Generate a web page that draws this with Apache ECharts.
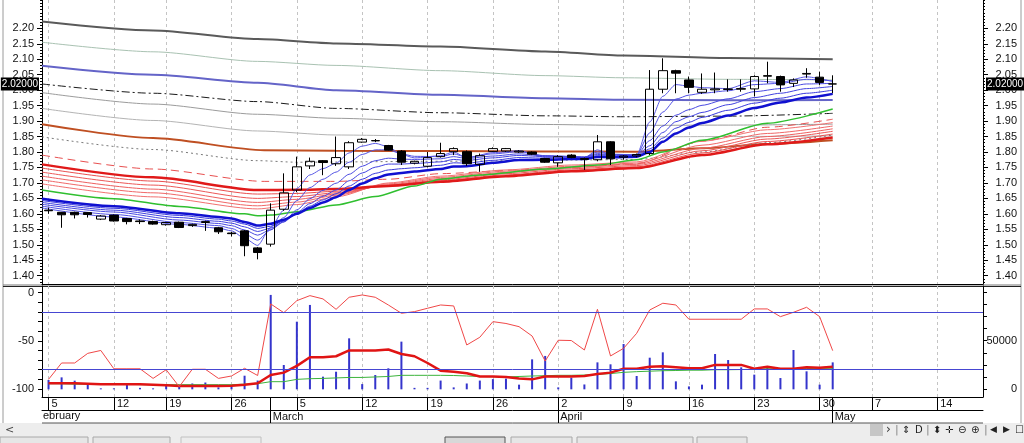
<!DOCTYPE html>
<html>
<head>
<meta charset="utf-8">
<script src="https://cdn.jsdelivr.net/npm/echarts@6/dist/echarts.min.js"></script>
<style>
html, body { margin: 0; padding: 0; background: #fff; }
#chart { width: 1024px; height: 443px; }
</style>
</head>
<body>
<div id="chart"></div>
<script>
// trading days shown on the x axis (last 11 are empty future slots)
var dates = [
    '2/5','2/6','2/7','2/8','2/9','2/12','2/13','2/14','2/15','2/19','2/20','2/21','2/22','2/23','2/26','2/27','2/28',
    '3/1','3/2','3/5','3/6','3/7','3/8','3/9','3/12','3/13','3/14','3/15','3/16','3/19','3/20','3/21','3/22','3/23','3/26','3/27','3/28','3/29','3/30',
    '4/2','4/3','4/4','4/5','4/6','4/9','4/10','4/11','4/12','4/13','4/16','4/17','4/18','4/19','4/20','4/23','4/24','4/25','4/26','4/27','4/30',
    '5/2','5/3','5/4','5/7','5/8','5/9','5/10','5/11','5/14','5/15','5/16','5/17'
];
var weekTicks = [0, 5, 9, 14, 19, 24, 29, 34, 39, 44, 49, 54, 59, 63, 68];
var monthTicks = [17, 39, 60];
var monthNames = ['March', 'April', 'May'];

var priceTicks = [1.40, 1.45, 1.50, 1.55, 1.60, 1.65, 1.70, 1.75, 1.80, 1.85, 1.90, 1.95, 2.00, 2.05, 2.10, 2.15, 2.20];
var oscTicks = [0, -50, -100];
var volTicks = [0, 50000];
var lastPrice = 2.02;

// candles
var opens  = [1.612,1.605,1.605,1.604,1.583,1.596,1.585,1.577,1.575,1.565,1.573,1.562,1.572,1.555,1.538,1.545,1.490,
              1.502,1.615,1.677,1.755,1.772,1.762,1.752,1.832,1.836,1.821,1.803,1.764,1.754,1.785,1.801,1.801,1.760,1.802,1.803,1.800,1.800,1.779,
              1.765,1.790,1.776,1.775,1.833,1.783,1.787,1.795,2.003,2.063,2.033,1.993,2.001,2.002,2.003,2.004,2.045,2.044,2.022,2.052,2.042,2.020];
var closes = [1.610,1.597,1.597,1.598,1.593,1.577,1.575,1.575,1.567,1.572,1.556,1.566,1.575,1.542,1.536,1.497,1.475,
              1.612,1.668,1.752,1.770,1.766,1.782,1.830,1.841,1.837,1.806,1.767,1.770,1.782,1.795,1.811,1.762,1.788,1.811,1.811,1.803,1.793,1.767,
              1.785,1.782,1.779,1.833,1.778,1.787,1.792,2.003,2.063,2.055,2.009,2.003,2.004,2.004,2.005,2.044,2.047,2.017,2.033,2.054,2.025,2.020];
var lows   = [1.600,1.555,1.585,1.588,1.580,1.575,1.566,1.567,1.565,1.562,1.554,1.558,1.545,1.535,1.527,1.463,1.453,
              1.494,1.610,1.670,1.745,1.725,1.755,1.745,1.830,1.832,1.805,1.758,1.760,1.750,1.782,1.790,1.755,1.736,1.800,1.800,1.797,1.790,1.765,
              1.752,1.780,1.742,1.770,1.758,1.775,1.783,1.790,1.990,1.990,1.990,1.988,1.990,1.995,1.995,1.980,2.022,1.995,2.010,2.040,2.017,1.990];
var highs  = [1.620,1.606,1.607,1.606,1.596,1.598,1.587,1.582,1.578,1.574,1.575,1.568,1.578,1.558,1.542,1.548,1.493,
              1.634,1.731,1.785,1.782,1.774,1.850,1.835,1.845,1.842,1.823,1.806,1.772,1.800,1.830,1.815,1.805,1.795,1.815,1.813,1.806,1.802,1.781,
              1.790,1.793,1.782,1.855,1.835,1.790,1.795,2.065,2.103,2.066,2.044,2.054,2.057,2.035,2.035,2.048,2.092,2.047,2.038,2.071,2.060,2.048];

// long averages and bands, [day index, price]
var maTop     = [[-0.5,2.222],[8,2.193],[16,2.165],[22,2.151],[30,2.141],[38,2.125],[44,2.112],[52,2.104],[60,2.100]];
var maPale    = [[-0.5,2.155],[8,2.124],[16,2.093],[22,2.080],[30,2.063],[38,2.047],[44,2.040],[52,2.035],[60,2.033]];
var maPurple  = [[-0.5,2.079],[8,2.050],[16,2.024],[22,2.000],[30,1.985],[38,1.974],[44,1.969],[52,1.967],[60,1.968]];
var maDashDot = [[-0.5,2.020],[8,1.990],[16,1.963],[22,1.941],[30,1.927],[38,1.917],[44,1.914],[52,1.916],[60,1.925]];
var maGrey1   = [[-0.5,1.992],[8,1.955],[16,1.922],[22,1.909],[30,1.898],[38,1.889],[44,1.886],[52,1.887],[60,1.890]];
var maGrey2   = [[-0.5,1.941],[8,1.902],[16,1.868],[22,1.855],[30,1.851],[38,1.849],[44,1.849],[52,1.850],[60,1.852]];
var maBrown   = [[-0.5,1.890],[8,1.845],[16.5,1.806],[22,1.804],[30,1.803],[38,1.802],[45,1.801],[50,1.812],[55,1.826],[60,1.838]];
var maDotted  = [[-0.5,1.849],[8,1.808],[16,1.772],[19,1.767],[30,1.770],[40,1.774],[45,1.776],[50,1.800],[55,1.830],[60,1.855]];
var maRedDash = [[-0.5,1.790],[8,1.745],[16.5,1.705],[22,1.705],[26,1.712],[30,1.730],[36,1.742],[40,1.750],[45,1.762],[50,1.835],[55,1.880],[60,1.906]];
var maGreen   = [[-0.5,1.677],[5,1.649],[10,1.624],[15,1.600],[16,1.594],[17,1.596],[19,1.607],[22,1.629],[25,1.656],[28,1.690],[30,1.712],
                 [33,1.726],[38,1.745],[42,1.758],[45,1.775],[47,1.800],[50,1.838],[55,1.893],[60,1.939]];

// long group (red)
var redIdx  = [-0.5, 8, 16, 19, 22, 26, 30, 35, 40, 45, 50, 55, 60];
var redL1   = [1.697,1.655,1.616,1.630,1.655,1.700,1.722,1.742,1.758,1.768,1.835,1.872,1.895];
var redL2   = [1.710,1.668,1.626,1.638,1.660,1.697,1.718,1.738,1.754,1.764,1.822,1.860,1.884];
var redL3   = [1.722,1.680,1.637,1.647,1.664,1.694,1.714,1.734,1.750,1.760,1.812,1.850,1.875];
var redL4   = [1.735,1.693,1.650,1.656,1.668,1.692,1.710,1.730,1.746,1.756,1.804,1.842,1.867];
var redL5   = [1.748,1.706,1.664,1.666,1.673,1.691,1.707,1.726,1.742,1.752,1.797,1.834,1.858];
var redSlow = [1.760,1.718,1.677,1.678,1.680,1.690,1.704,1.722,1.738,1.748,1.790,1.825,1.847];

// short group (blue)
var blueIdx  = [-0.5,5,10,13,14,15,16,17,18,19,20,21,22,23,24,25,26,27,28,30,31,32,34,36,38,40,41,42,43,45,46,47,48,49,50,52,54,56,58,60];
var blueS1   = [1.619,1.590,1.566,1.554,1.545,1.521,1.498,1.556,1.612,1.682,1.726,1.746,1.764,1.797,1.819,1.828,1.817,1.792,1.781,1.788,
                1.800,1.781,1.798,1.804,1.783,1.783,1.781,1.807,1.792,1.791,1.897,1.980,2.018,2.013,2.008,2.005,2.030,2.025,2.043,2.028];
var blueS2   = [1.625,1.598,1.572,1.562,1.553,1.535,1.515,1.548,1.588,1.643,1.685,1.712,1.735,1.767,1.792,1.807,1.807,1.794,1.786,1.785,
                1.794,1.783,1.794,1.801,1.788,1.785,1.783,1.800,1.793,1.791,1.862,1.929,1.971,1.984,1.990,1.998,2.018,2.022,2.035,2.030];
var blueS3   = [1.631,1.606,1.580,1.569,1.562,1.548,1.531,1.549,1.574,1.613,1.649,1.676,1.699,1.728,1.754,1.772,1.780,1.777,1.776,1.778,
                1.785,1.779,1.787,1.794,1.788,1.786,1.784,1.795,1.791,1.790,1.837,1.884,1.919,1.937,1.951,1.972,1.995,2.005,2.020,2.022];
var blueS4   = [1.637,1.612,1.588,1.576,1.570,1.558,1.543,1.554,1.574,1.604,1.633,1.657,1.677,1.707,1.732,1.751,1.761,1.761,1.763,1.768,
                1.776,1.773,1.781,1.789,1.785,1.784,1.783,1.792,1.789,1.789,1.820,1.863,1.898,1.914,1.928,1.953,1.976,1.990,2.005,2.012];
var blueS5   = [1.643,1.618,1.595,1.583,1.577,1.567,1.553,1.560,1.577,1.600,1.625,1.645,1.665,1.690,1.712,1.731,1.742,1.746,1.749,1.757,
                1.765,1.764,1.773,1.782,1.780,1.781,1.781,1.788,1.786,1.787,1.810,1.845,1.877,1.896,1.912,1.935,1.958,1.974,1.990,2.000];
var blueSlow = [1.649,1.625,1.602,1.590,1.585,1.574,1.562,1.568,1.581,1.600,1.619,1.637,1.654,1.677,1.698,1.715,1.727,1.732,1.737,1.745,
                1.753,1.754,1.765,1.774,1.775,1.777,1.777,1.784,1.783,1.785,1.800,1.833,1.860,1.879,1.894,1.918,1.942,1.960,1.976,1.988];

// lower panel
var pctR = [-90,-73,-73,-63,-60,-79,-79,-79,-89,-80,-97.6,-79.5,-79.5,-89,-86.5,-78.5,-86,-11.7,-20.8,-8.3,
            -3.1,-6.5,-17.3,-4.8,-2.4,-4.8,-12.8,-21.4,-19.7,-16.2,-12.8,-13.8,-54.3,-46.3,-30.1,-32,-35.3,-45,-71,-49.4,
            -49.7,-59.5,-17.3,-65.7,-57.8,-42.2,-18,-11,-12.8,-27.6,-27.6,-27.6,-27.6,-27.6,-16.9,-16.9,-24.9,-20.4,-15.2,-24.9,-60.2];
var pctRSlow = [-94,-94,-94,-94.5,-95,-95,-95,-95,-95.5,-96,-97,-97,-97,-97,-96.5,-95.5,-94,-85.5,-83,-76,
                -67,-67,-66,-60,-60,-60,-59,-63.7,-66,-73,-81,-82,-83.7,-87,-87,-87.5,-89,-90,-87,-87,
                -87,-86.5,-84.4,-83,-79,-79,-77,-76.5,-77.5,-78.5,-78.5,-75,-75,-75,-79,-77,-79,-79,-77.5,-78,-77];
var pctRSignal = [-94.5,-94.5,-95,-95,-95,-95,-95,-95.5,-95.5,-95.5,-95.5,-95.5,-95.5,-95.5,-95.5,-95,-94.5,-92.4,-92.4,-90,
                  -89.3,-89,-88.5,-88,-88,-87.5,-87,-85.8,-85.8,-85.8,-85.8,-86,-86.5,-87,-87.2,-87.5,-87,-86.5,-86.2,-85.8,
                  -85.8,-85.5,-84.8,-84,-82.7,-82,-81.5,-81,-80.8,-80.5,-80.5,-80,-80,-79.8,-79.5,-79,-79,-78.8,-78.8,-78.6,-78.5];
var pctRLevels = [-20, -80];
var volume = [9600,12300,8900,5500,1000,1000,5500,1500,1000,5000,4500,6000,7000,2000,3000,14000,9000,97000,25000,69500,
              86700,13000,18100,52400,5400,14700,21600,49000,1500,1500,9000,2000,6000,9000,10500,11000,4800,30800,34300,2000,
              12000,5000,27700,25700,46600,13700,32500,38000,8200,3000,4800,36300,30100,22600,15100,24000,11600,40400,18500,4800,27700];


var FONT = 'Liberation Sans';
var chart = echarts.init(document.getElementById('chart'));

function pair(idx, vals) {
    return idx.map(function (x, i) { return [x, vals[i]]; });
}
function ma(name, pts, color, width, type, z) {
    return {
        name: name, type: 'line', xAxisIndex: 1, yAxisIndex: 0,
        data: pts, symbol: 'none', smooth: 0.25, smoothMonotone: 'x',
        lineStyle: { color: color, width: width, type: type || 'solid' },
        z: z || 3, silent: true, animation: false
    };
}
function minorTicks(from, to, step) {
    var out = [];
    for (var v = from; v <= to + step / 2; v += step) out.push(+v.toFixed(4));
    return out;
}

var priceMin = 1.3732, priceMax = 2.2915;
var oscMin = -108.3, oscMax = 6.9;
var volMin = -7880, volMax = 106160;

var candleData = opens.map(function (o, i) { return [o, closes[i], lows[i], highs[i]]; });
var labelStyle = { fontFamily: FONT, fontSize: 11, color: '#111' };

function priceAxis(pos, major) {
    return {
        type: 'value', gridIndex: 0, position: pos, min: priceMin, max: priceMax,
        axisLine: { show: major, onZero: false, lineStyle: { color: '#000' } },
        axisTick: { show: true, customValues: major ? priceTicks : minorTicks(1.38, 2.29, 0.01),
                    length: major ? 5 : 2, lineStyle: { color: '#000' } },
        axisLabel: major ? Object.assign({ show: true, customValues: priceTicks, margin: pos === 'left' ? 8 : 34,
                    align: 'right', formatter: function (v) { return v.toFixed(2); } }, labelStyle) : { show: false },
        splitLine: { show: false }
    };
}
function gridAxis(gridIndex) {
    // carries only the dashed weekly grid lines
    return { type: 'value', gridIndex: gridIndex, min: -0.5, max: 71.5,
             axisLine: { show: false, onZero: false }, axisTick: { show: false, length: 0, customValues: weekTicks },
             axisLabel: { show: false }, splitLine: { show: true, lineStyle: { color: '#c4c4c4', type: [3, 3] } } };
}

var option = {
    backgroundColor: '#ffffff',
    animation: false,
    grid: [
        { left: 42, right: 41, top: 0, height: 284, outerBoundsMode: 'none' },
        { left: 42, right: 41, top: 286, height: 111, outerBoundsMode: 'none' }
    ],
    xAxis: [
        { type: 'category', gridIndex: 0, data: dates, boundaryGap: true,
          axisLine: { onZero: false, lineStyle: { color: '#000' } }, axisTick: { show: false }, axisLabel: { show: false }, splitLine: { show: false } },
        gridAxis(0),
        { type: 'category', gridIndex: 1, data: dates, boundaryGap: true, position: 'bottom',
          axisLine: { onZero: false, lineStyle: { color: '#000' } },
          axisTick: { show: true, alignWithLabel: true, length: 13, lineStyle: { color: '#000' },
                      interval: function (i) { return weekTicks.indexOf(i) >= 0 || monthTicks.indexOf(i) >= 0; } },
          axisLabel: Object.assign({ interval: function (i) { return weekTicks.indexOf(i) >= 0; },
                      formatter: function (v) { return v.split('/')[1]; }, align: 'left', margin: 1, padding: [0, 0, 0, 3] }, labelStyle),
          splitLine: { show: false } },
        { type: 'category', gridIndex: 1, data: dates, boundaryGap: true, position: 'bottom', offset: 13,
          axisLine: { onZero: false, lineStyle: { color: '#000' } },
          axisTick: { show: true, alignWithLabel: true, length: 13, lineStyle: { color: '#000' },
                      interval: function (i) { return monthTicks.indexOf(i) >= 0; } },
          axisLabel: Object.assign({ interval: function (i) { return monthTicks.indexOf(i) >= 0; },
                      formatter: function (v, i) { return monthNames[monthTicks.indexOf(i)] || ''; },
                      align: 'left', margin: 1, padding: [0, 0, 0, 2] }, labelStyle),
          splitLine: { show: false } },
        gridAxis(1)
    ],
    yAxis: [
        priceAxis('left', true),
        priceAxis('right', true),
        priceAxis('left', false),
        priceAxis('right', false),
        { type: 'value', gridIndex: 1, position: 'left', min: oscMin, max: oscMax,
          axisLine: { show: true, onZero: false, lineStyle: { color: '#000' } },
          axisTick: { customValues: [0,-10,-20,-30,-40,-50,-60,-70,-80,-90,-100], length: 4, lineStyle: { color: '#000' } },
          axisLabel: Object.assign({ customValues: oscTicks, margin: 8 }, labelStyle), splitLine: { show: false } },
        { type: 'value', gridIndex: 1, position: 'right', min: volMin, max: volMax,
          axisLine: { show: true, onZero: false, lineStyle: { color: '#000' } },
          axisTick: { customValues: [0,12500,25000,37500,50000,62500,75000,87500,100000], length: 4, lineStyle: { color: '#000' } },
          axisLabel: Object.assign({ customValues: volTicks, margin: 34, align: 'right',
                      formatter: function (v) { return String(Math.round(v)); } }, labelStyle),
          splitLine: { show: false } }
    ],
    series: [
        ma('top', maTop, '#5a5a5a', 2),
        ma('pale', maPale, '#a9c2b2', 1),
        ma('purple', maPurple, '#6464c8', 2),
        ma('dashdot', maDashDot, '#1a1a1a', 1, [8, 3, 2, 3]),
        ma('grey1', maGrey1, '#9c9c9c', 1),
        ma('grey2', maGrey2, '#b4b4b4', 1),
        ma('brown', maBrown, '#bf4f22', 2),
        ma('dotted', maDotted, '#7a7a7a', 1, [2, 3]),
        ma('reddash', maRedDash, '#e85050', 1, [8, 5]),
        ma('r1', pair(redIdx, redL1), '#f27070', 1),
        ma('r2', pair(redIdx, redL2), '#f06868', 1),
        ma('r3', pair(redIdx, redL3), '#ee6060', 1),
        ma('r4', pair(redIdx, redL4), '#ec5858', 1),
        ma('r5', pair(redIdx, redL5), '#ea5050', 1),
        ma('rslow', pair(redIdx, redSlow), '#e01a1a', 2.5, 'solid', 4),
        ma('green', maGreen, '#2fbf2f', 1.5, 'solid', 4),
        ma('b1', pair(blueIdx, blueS1), '#5a5ae6', 1, 'solid', 4),
        ma('b2', pair(blueIdx, blueS2), '#5252e4', 1, 'solid', 4),
        ma('b3', pair(blueIdx, blueS3), '#4a4ae2', 1, 'solid', 4),
        ma('b4', pair(blueIdx, blueS4), '#4242e0', 1, 'solid', 4),
        ma('b5', pair(blueIdx, blueS5), '#3a3ade', 1, 'solid', 4),
        ma('bslow', pair(blueIdx, blueSlow), '#1010d0', 2.5, 'solid', 5),
        {
            name: 'price', type: 'candlestick', xAxisIndex: 0, yAxisIndex: 0, data: candleData,
            barWidth: 9, z: 6, silent: true,
            itemStyle: { color: 'rgba(255,255,255,0)', color0: '#000', borderColor: '#000', borderColor0: '#000', borderWidth: 1 },
            markLine: {
                symbol: 'none', silent: true,
                lineStyle: { color: 'rgba(0,0,0,0)', width: 0 },
                label: { show: true, formatter: lastPrice.toFixed(5), color: '#fff', backgroundColor: '#000',
                         fontFamily: FONT, fontSize: 10, padding: [2, 1, 1, 1], distance: 3 },
                data: [ { yAxis: lastPrice, label: { position: 'start' } }, { yAxis: lastPrice, label: { position: 'end' } } ]
            }
        },
        { name: 'volume', type: 'bar', xAxisIndex: 2, yAxisIndex: 5, data: volume, barWidth: 2,
          itemStyle: { color: '#3434cc' }, silent: true, z: 2 },
        { name: '%R signal', type: 'line', xAxisIndex: 2, yAxisIndex: 4, data: pctRSignal, symbol: 'none',
          lineStyle: { color: '#3cb43c', width: 1 }, silent: true, z: 3 },
        { name: '%R slow', type: 'line', xAxisIndex: 2, yAxisIndex: 4, data: pctRSlow, symbol: 'none',
          lineStyle: { color: '#e01414', width: 2.5 }, silent: true, z: 4 },
        { name: '%R', type: 'line', xAxisIndex: 2, yAxisIndex: 4, data: pctR, symbol: 'none',
          lineStyle: { color: '#f04848', width: 1 }, silent: true, z: 4,
          markLine: { symbol: 'none', silent: true, label: { show: false },
                      lineStyle: { color: '#4646d2', width: 1, type: 'solid' },
                      data: pctRLevels.map(function (v) { return { yAxis: v }; }) } }
    ],
    graphic: [
        { type: 'rect', shape: { x: 0, y: 423, width: 1024, height: 20 }, style: { fill: '#ededed' }, silent: true },
        { type: 'line', shape: { x1: 42, y1: 423, x2: 983, y2: 423 }, style: { stroke: '#555', lineWidth: 1 } },
        { type: 'line', shape: { x1: 3, y1: 0, x2: 3, y2: 423 }, style: { stroke: '#9a9a9a', lineWidth: 1 } },
        { type: 'line', shape: { x1: 1021, y1: 0, x2: 1021, y2: 423 }, style: { stroke: '#9a9a9a', lineWidth: 1 } },
        { type: 'line', shape: { x1: 3, y1: 285, x2: 1021, y2: 285 }, style: { stroke: '#777', lineWidth: 1 } },
        { type: 'line', shape: { x1: 3, y1: 286.5, x2: 1021, y2: 286.5 }, style: { stroke: '#222', lineWidth: 1 } },
        { type: 'text', x: 43, y: 416, style: { text: 'ebruary', font: '11px "Liberation Sans"', fill: '#111', verticalAlign: 'middle' } },
        { type: 'text', x: 5, y: 430, style: { text: '<', font: '11px "DejaVu Sans"', fill: '#444', verticalAlign: 'middle' } },
        { type: 'rect', shape: { x: 870, y: 424, width: 13, height: 12 }, style: { fill: '#c6c6c6' } },
        { type: 'text', x: 886, y: 430, style: { text: '›', font: '12px "DejaVu Sans"', fill: '#333', verticalAlign: 'middle' } },
        { type: 'text', x: 895, y: 430, style: { text: '|', font: '11px "DejaVu Sans"', fill: '#888', verticalAlign: 'middle' } },
        { type: 'text', x: 902, y: 430, style: { text: '⇕', font: '10px "DejaVu Sans"', fill: '#222', verticalAlign: 'middle' } },
        { type: 'text', x: 915, y: 430, style: { text: 'D', font: '10px "DejaVu Sans"', fill: '#222', verticalAlign: 'middle' } },
        { type: 'text', x: 926, y: 430, style: { text: '|', font: '11px "DejaVu Sans"', fill: '#888', verticalAlign: 'middle' } },
        { type: 'text', x: 933, y: 430, style: { text: '⬍', font: '10px "DejaVu Sans"', fill: '#222', verticalAlign: 'middle' } },
        { type: 'text', x: 945, y: 430, style: { text: '✛', font: '10px "DejaVu Sans"', fill: '#222', verticalAlign: 'middle' } },
        { type: 'text', x: 958, y: 430, style: { text: '⊖', font: '10px "DejaVu Sans"', fill: '#222', verticalAlign: 'middle' } },
        { type: 'text', x: 971, y: 430, style: { text: '⊕', font: '10px "DejaVu Sans"', fill: '#222', verticalAlign: 'middle' } },
        { type: 'text', x: 984, y: 430, style: { text: '|', font: '11px "DejaVu Sans"', fill: '#888', verticalAlign: 'middle' } },
        { type: 'text', x: 990, y: 430, style: { text: '◀', font: '9px "DejaVu Sans"', fill: '#222', verticalAlign: 'middle' } },
        { type: 'text', x: 1003, y: 430, style: { text: '▶', font: '9px "DejaVu Sans"', fill: '#222', verticalAlign: 'middle' } },
        { type: 'text', x: 1015, y: 430, style: { text: '☐', font: '10px "DejaVu Sans"', fill: '#222', verticalAlign: 'middle' } },
        { type: 'rect', shape: { x: 0, y: 437, width: 88, height: 8 }, style: { fill: '#e6e6e6', stroke: '#a8a8a8' } },
        { type: 'rect', shape: { x: 93, y: 437, width: 77, height: 8 }, style: { fill: '#e6e6e6', stroke: '#a8a8a8' } },
        { type: 'rect', shape: { x: 181, y: 437, width: 80, height: 8 }, style: { fill: '#ececec', stroke: '#c0c0c0' } },
        { type: 'rect', shape: { x: 445, y: 437, width: 60, height: 8 }, style: { fill: '#d8d8d8', stroke: '#555' } },
        { type: 'rect', shape: { x: 511, y: 437, width: 61, height: 8 }, style: { fill: '#e6e6e6', stroke: '#a8a8a8' } },
        { type: 'rect', shape: { x: 577, y: 437, width: 116, height: 8 }, style: { fill: '#e6e6e6', stroke: '#a8a8a8' } },
        { type: 'rect', shape: { x: 697, y: 437, width: 50, height: 8 }, style: { fill: '#e6e6e6', stroke: '#a8a8a8' } }
    ]
};

chart.setOption(option);
</script>
</body>
</html>
